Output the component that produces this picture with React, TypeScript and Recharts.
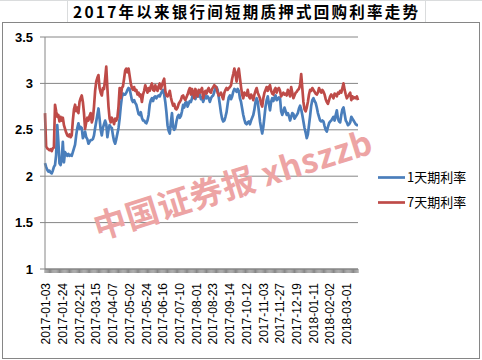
import React from "react";
import { LineChart, Line, XAxis, YAxis, CartesianGrid } from "recharts";

const TITLE = "2017年以来银行间短期质押式回购利率走势";
const SERIES_1D = "1天期利率";
const SERIES_7D = "7天期利率";
const WATERMARK = "中国证券报 xhszzb";

const tickLabels = [
  "2017-01-03", "2017-01-24", "2017-02-21", "2017-03-15", "2017-04-07",
  "2017-05-02", "2017-05-24", "2017-06-16", "2017-07-10", "2017-08-01",
  "2017-08-23", "2017-09-14", "2017-10-12", "2017-11-03", "2017-11-27",
  "2017-12-19", "2018-01-11", "2018-02-02", "2018-03-01",
];
const TICK_EVERY = 15;
const yTicks = [1, 1.5, 2, 2.5, 3, 3.5];

const rate7d = [
  2.68, 2.32, 2.30, 2.29, 2.28, 2.29, 2.27, 2.30, 2.31, 2.77,
  2.70, 2.64, 2.66, 2.59, 2.64, 2.60, 2.63, 2.55, 2.51, 2.47,
  2.44, 2.43, 2.45, 2.42, 2.44, 2.60, 2.72, 2.77, 2.70, 2.74,
  2.68, 2.80, 2.84, 2.87, 2.80, 2.68, 2.51, 2.58, 2.63, 2.60,
  2.65, 2.68, 2.58, 2.62, 2.75, 2.92, 3.02, 3.06, 3.09, 2.95,
  2.90, 2.87, 2.95, 2.94, 3.05, 3.18, 2.95, 2.75, 2.62, 2.58,
  2.63, 2.60, 2.56, 2.62, 2.60, 2.63, 2.75, 2.95, 2.84, 2.95,
  2.97, 3.05, 3.14, 3.16, 3.12, 3.16, 3.08, 3.00, 2.95, 2.93,
  2.96, 2.92, 2.93, 2.88, 2.90, 2.86, 2.88, 2.80, 2.88, 2.92,
  2.98, 2.94, 2.90, 2.95, 2.92, 2.97, 3.00, 2.93, 2.92, 2.98,
  2.94, 2.92, 2.97, 3.00, 2.94, 2.98, 3.02, 3.05, 2.92, 2.87,
  2.86, 2.88, 2.92, 2.85, 2.80, 2.76, 2.78, 2.73, 2.72, 2.74,
  2.78, 2.80, 2.82, 2.86, 2.87, 2.84, 2.82, 2.85, 2.88, 2.92,
  2.95, 2.88, 2.94, 2.90, 2.84, 2.94, 2.90, 2.86, 2.93, 2.90,
  2.93, 2.95, 2.84, 2.90, 2.92, 2.89, 2.93, 2.95, 2.91, 2.90,
  2.94, 2.96, 2.98, 2.97, 2.95, 2.90, 2.87, 2.88, 2.90, 2.86,
  2.83, 2.90, 2.93, 2.95, 2.93, 2.95, 2.96, 2.98, 3.05, 3.10,
  3.16, 3.10, 3.02, 3.12, 3.16, 3.06, 2.96, 2.88, 2.84, 2.90,
  2.88, 2.87, 2.93, 2.86, 2.84, 2.88, 2.86, 2.82, 2.88, 2.92,
  2.95, 2.90, 2.87, 2.84, 2.78, 2.75, 2.84, 2.90, 2.93, 2.96,
  2.92, 2.96, 2.98, 2.92, 2.89, 2.88, 2.93, 2.95, 2.90, 2.94,
  2.95, 2.92, 2.86, 2.88, 2.90, 2.88, 2.89, 2.87, 2.93, 2.90,
  2.86, 2.96, 2.90, 2.84, 2.87, 2.90, 2.91, 2.93, 2.94, 2.98,
  3.10, 2.95, 2.80, 2.72, 2.70, 2.74, 2.80, 2.88, 2.93, 2.92,
  2.95, 2.93, 2.91, 2.89, 2.88, 2.90, 2.95, 2.92, 2.90, 2.93,
  2.91, 2.88, 2.83, 2.80, 2.78, 2.82, 2.86, 2.88, 2.86, 2.84,
  2.89, 2.88, 2.86, 2.90, 2.89, 2.92, 2.90, 2.95, 3.00, 2.93,
  2.88, 2.84, 2.86, 2.88, 2.90, 2.82, 2.86, 2.84, 2.85, 2.84,
  2.86, 2.82,
];

const rate1d = [
  2.14, 2.10, 2.07, 2.05, 2.06, 2.04, 2.03, 2.06, 2.10, 2.12,
  2.23, 2.55, 2.37, 2.14, 2.12, 2.18, 2.37, 2.15, 2.26, 2.24,
  2.22, 2.24, 2.22, 2.23, 2.22, 2.26, 2.30, 2.34, 2.44, 2.52,
  2.57, 2.51, 2.53, 2.52, 2.41, 2.44, 2.48, 2.42, 2.40, 2.35,
  2.37, 2.39, 2.39, 2.40, 2.44, 2.52, 2.59, 2.66, 2.73, 2.62,
  2.50, 2.44, 2.52, 2.56, 2.60, 2.56, 2.42, 2.50, 2.55, 2.53,
  2.52, 2.44, 2.38, 2.35, 2.40, 2.46, 2.52, 2.62, 2.75, 2.85,
  2.89, 2.88, 2.88, 2.90, 2.93, 2.95, 2.94, 2.88, 2.82, 2.80,
  2.82, 2.79, 2.77, 2.72, 2.67, 2.66, 2.69, 2.63, 2.60, 2.60,
  2.58, 2.57, 2.60, 2.66, 2.77, 2.82, 2.84, 2.81, 2.85, 2.86,
  2.84, 2.86, 2.87, 2.86, 2.89, 2.91, 2.93, 2.88, 2.80, 2.69,
  2.55, 2.49, 2.46, 2.58, 2.68, 2.53, 2.50, 2.52, 2.59, 2.64,
  2.66, 2.63, 2.65, 2.70, 2.77, 2.74, 2.79, 2.80, 2.75, 2.78,
  2.81, 2.80, 2.84, 2.91, 2.85, 2.83, 2.87, 2.86, 2.86, 2.88,
  2.83, 2.85, 2.80, 2.84, 2.87, 2.84, 2.86, 2.84, 2.80, 2.84,
  2.86, 2.87, 2.91, 2.95, 2.96, 2.93, 2.85, 2.77, 2.68, 2.62,
  2.59, 2.60, 2.64, 2.69, 2.78, 2.85, 2.87, 2.83, 2.86, 2.91,
  2.94, 2.93, 2.91, 2.94, 2.92, 2.84, 2.80, 2.73, 2.66, 2.61,
  2.57, 2.56, 2.58, 2.59, 2.56, 2.60, 2.63, 2.66, 2.72, 2.80,
  2.84, 2.80, 2.70, 2.59, 2.52, 2.46, 2.53, 2.64, 2.75, 2.82,
  2.86, 2.78, 2.71, 2.80, 2.84, 2.81, 2.85, 2.87, 2.82, 2.83,
  2.85, 2.84, 2.70, 2.66, 2.70, 2.74, 2.70, 2.66, 2.68, 2.65,
  2.60, 2.64, 2.68, 2.67, 2.62, 2.64, 2.66, 2.68, 2.73, 2.76,
  2.72, 2.66, 2.59, 2.52, 2.47, 2.41, 2.45, 2.55, 2.65, 2.76,
  2.82, 2.84, 2.81, 2.79, 2.74, 2.68, 2.64, 2.60, 2.59, 2.60,
  2.59, 2.54, 2.50, 2.48, 2.53, 2.57, 2.59, 2.60, 2.62, 2.64,
  2.60, 2.66, 2.71, 2.62, 2.59, 2.58, 2.66, 2.72, 2.74, 2.67,
  2.60, 2.58, 2.55, 2.56, 2.58, 2.64, 2.62, 2.60, 2.58, 2.56,
  2.55, 2.55,
];

const BLUE = "#4a7ebb";
const RED = "#be4b48";
const GRID = "#868686";

const data = rate1d.map((v, i) => ({ i, r1: v, r7: rate7d[i] }));

const XTick = (props: any) => {
  const { x, y, payload } = props;
  const idx = Number(payload.value);
  if (idx % TICK_EVERY !== 0) return <g />;
  const label = tickLabels[idx / TICK_EVERY];
  if (!label) return <g />;
  const ty = y + 8;
  return (
    <text
      x={x + 1}
      y={ty}
      dy="0.36em"
      textAnchor="end"
      transform={`rotate(-90, ${x + 1}, ${ty})`}
      fontFamily="'Liberation Sans', Arial, sans-serif"
      fontSize={12}
      fill="#000"
    >
      {label}
    </text>
  );
};

export default function App() {
  return (
    <div
      style={{
        position: "absolute",
        left: 0,
        top: 0,
        width: 482,
        height: 360,
        background: "#fff",
        overflow: "hidden",
      }}
    >
      <svg
        width={482}
        height={360}
        style={{ position: "absolute", left: 0, top: 0 }}
      >
        <line x1={0} y1={0.5} x2={482} y2={0.5} stroke="#dadcdd" />
        <line x1={67.5} y1={0} x2={67.5} y2={22} stroke="#dadcdd" />
        <line x1={425.5} y1={0} x2={425.5} y2={22} stroke="#dadcdd" />
        <text
          x={73}
          y={18}
          textLength={345}
          lengthAdjust="spacing"
          fontFamily="'Noto Sans CJK SC', sans-serif"
          fontWeight="bold"
          fontSize={15.5}
          fill="#000"
        >
          {TITLE}
        </text>
        <rect
          x={2.5}
          y={22.5}
          width={477}
          height={336}
          fill="#fff"
          stroke={GRID}
        />
      </svg>
      <div style={{ position: "absolute", left: 0, top: 0 }}>
        <LineChart
          width={482}
          height={360}
          data={data}
          margin={{ top: 37, right: 124, bottom: 21, left: 0 }}
        >
          <CartesianGrid vertical={false} stroke={GRID} strokeWidth={1} />
          <XAxis
            dataKey="i"
            type="category"
            interval={0}
            height={70}
            tickSize={4}
            axisLine={{ stroke: GRID }}
            tickLine={{ stroke: GRID }}
            tick={<XTick />}
          />
          <YAxis
            width={45}
            domain={[1, 3.5]}
            ticks={yTicks}
            interval={0}
            tickSize={5}
            tickMargin={7}
            axisLine={{ stroke: GRID }}
            tickLine={{ stroke: GRID }}
            tick={{
              fontFamily: "'Liberation Sans', Arial, sans-serif",
              fontSize: 13,
              fontWeight: "bold",
              fill: "#000",
            }}
          />
          <Line
            dataKey="r1"
            name={SERIES_1D}
            stroke={BLUE}
            strokeWidth={2.7}
            dot={false}
            type="linear"
            strokeLinejoin="round"
            isAnimationActive={false}
          />
          <Line
            dataKey="r7"
            name={SERIES_7D}
            stroke={RED}
            strokeWidth={2.7}
            dot={false}
            type="linear"
            strokeLinejoin="round"
            isAnimationActive={false}
          />
        </LineChart>
      </div>
      <svg
        width={482}
        height={360}
        style={{ position: "absolute", left: 0, top: 0, pointerEvents: "none" }}
      >
        <text
          x={98}
          y={240}
          transform="rotate(-17.5, 98, 240)"
          textLength={290}
          lengthAdjust="spacing"
          fontFamily="'Noto Sans CJK SC', sans-serif"
          fontWeight="bold"
          fontSize={33}
          fill="#eda4a4"
        >
          {WATERMARK}
        </text>
        <g fontFamily="'Noto Sans CJK SC', sans-serif" fontSize={13} fill="#000">
          <line x1={378} y1={177.5} x2={405} y2={177.5} stroke={BLUE} strokeWidth={2.7} />
          <text x={407} y={182}>{SERIES_1D}</text>
          <line x1={378} y1={202.5} x2={405} y2={202.5} stroke={RED} strokeWidth={2.7} />
          <text x={407} y={207}>{SERIES_7D}</text>
        </g>
      </svg>
    </div>
  );
}
